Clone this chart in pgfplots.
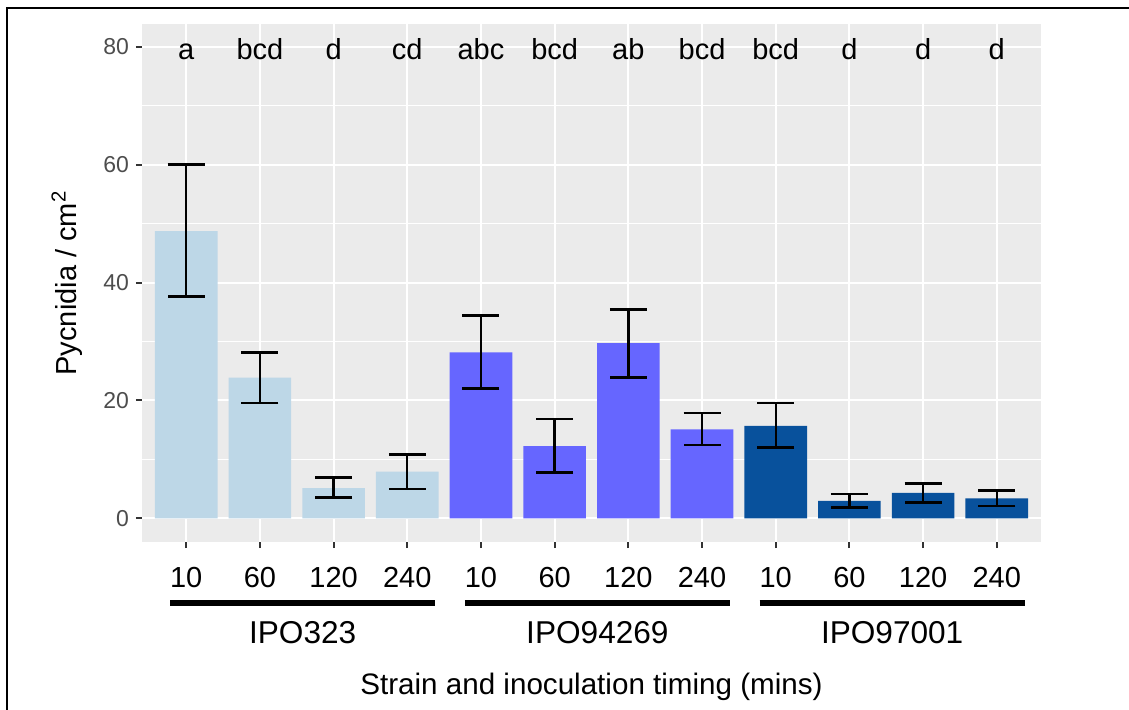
\documentclass[border=0pt]{standalone}
\usepackage{pgfplots}
\pgfplotsset{compat=1.18}
\usepackage{pgfplotstable}
\usepackage{fontspec}
\setmainfont{Liberation Sans}
\definecolor{panel}{HTML}{EBEBEB}
\definecolor{clight}{HTML}{BDD7E7}
\definecolor{cmid}{HTML}{6666FF}
\definecolor{cdark}{HTML}{08519C}
\definecolor{tickgray}{HTML}{4D4D4D}
\definecolor{tickline}{HTML}{333333}

\pgfplotstableread{
x y ep em
1 48.7 11.35 11.1
2 23.85 4.25 4.25
3 5.1 1.8 1.6
4 7.9 2.95 2.9
}\tabA
\pgfplotstableread{
x y ep em
5 28.15 6.25 6.1
6 12.25 4.6 4.45
7 29.7 5.75 5.8
8 15.1 2.8 2.7
}\tabB
\pgfplotstableread{
x y ep em
9 15.7 3.85 3.7
10 2.95 1.15 1.15
11 4.3 1.6 1.6
12 3.4 1.35 1.3
}\tabC

\begin{document}
\begin{tikzpicture}
\useasboundingbox (0,0) rectangle (564.5pt,354.5pt);
\draw[line width=1.2pt] (3.5pt,-5pt) -- (3.5pt,350.5pt) -- (570pt,350.5pt);
\begin{axis}[
  at={(71pt,83.5pt)}, anchor=south west,
  scale only axis, width=449.5pt, height=259pt,
  xmin=0.4, xmax=12.6, ymin=-4.02, ymax=83.85,
  clip=false,
  axis background/.style={fill=panel},
  axis line style={draw=none},
  xtick={1,...,12},
  xticklabels={10,60,120,240,10,60,120,240,10,60,120,240},
  ytick={0,20,40,60,80},
  minor ytick={10,30,50,70},
  xtick pos=bottom, ytick pos=left,
  grid=both,
  major grid style={white, line width=1pt},
  minor grid style={white, line width=0.5pt},
  tick align=outside,
  major tick length=3pt,
  minor tick length=0pt,
  tick style={tickline, line width=1pt},
  xticklabel style={font=\fontsize{14.5pt}{17pt}\selectfont, anchor=base, yshift=-19.5pt},
  yticklabel style={font=\fontsize{11.5pt}{13pt}\selectfont, text=tickgray},
  /pgf/number format/assume math mode=true,
  error bars/y dir=both,
  error bars/y explicit,
  error bars/error bar style={black, line width=1.2pt},
  error bars/error mark options={rotate=90, mark size=9.25pt, line width=1.2pt, black},
]
\addplot[ybar, bar width=0.85, bar shift=0pt, fill=clight, draw=none]
  table[x=x, y=y, y error plus=ep, y error minus=em]{\tabA};
\addplot[ybar, bar width=0.85, bar shift=0pt, fill=cmid, draw=none]
  table[x=x, y=y, y error plus=ep, y error minus=em]{\tabB};
\addplot[ybar, bar width=0.85, bar shift=0pt, fill=cdark, draw=none]
  table[x=x, y=y, y error plus=ep, y error minus=em]{\tabC};

\foreach \i/\l in {1/a,2/bcd,3/d,4/cd,5/abc,6/bcd,7/ab,8/bcd,9/bcd,10/d,11/d,12/d}{
  \edef\temp{\noexpand\node[anchor=base, font=\noexpand\fontsize{14.5pt}{17pt}\noexpand\selectfont] at (axis cs:\i,77.9) {\l};}
  \temp
}
\foreach \s/\n in {1/IPO323,5/IPO94269,9/IPO97001}{
  \edef\temp{\noexpand\draw[line width=3pt] (axis cs:\s-0.22,-14.37) -- (axis cs:\s+3.38,-14.37);
  \noexpand\node[anchor=base, font=\noexpand\fontsize{15.8pt}{18pt}\noexpand\selectfont] at (axis cs:\s+1.58,-21.2) {\n};}
  \temp
}
\end{axis}
\node[anchor=base, font=\fontsize{14.8pt}{17pt}\selectfont] at (295.75pt,7.5pt) {Strain and inoculation timing (mins)};
\node[anchor=base, rotate=90, font=\fontsize{14.5pt}{17pt}\selectfont] at (38pt,213pt) {Pycnidia / cm\textsuperscript{2}};
\end{tikzpicture}
\end{document}
